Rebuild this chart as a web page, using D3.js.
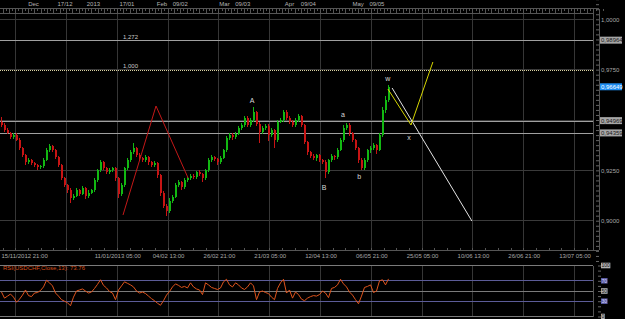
<!DOCTYPE html>
<html>
<head>
<meta charset="utf-8">
<title>USDCHF H4</title>
<script src="https://cdn.jsdelivr.net/npm/d3@7"></script>
<style>
  html, body { margin: 0; padding: 0; background: #000; overflow: hidden; }
  svg { display: block; font-family: 'Liberation Sans', Arial, sans-serif; }
</style>
</head>
<body>
<div id="chart"></div>
<script>
// price bars (USDCHF)
var firstOpen = 0.9490;
var closes = [
  0.9475, 0.9450, 0.9435, 0.9415, 0.9425, 0.9400, 0.9360, 0.9325, 0.9290, 0.9300,
  0.9285, 0.9275, 0.9265, 0.9270, 0.9300, 0.9350, 0.9370, 0.9350, 0.9315, 0.9275,
  0.9210, 0.9175, 0.9150, 0.9115, 0.9125, 0.9150, 0.9135, 0.9160, 0.9125, 0.9140,
  0.9150, 0.9200, 0.9250, 0.9290, 0.9260, 0.9240, 0.9250, 0.9260, 0.9210, 0.9135,
  0.9175, 0.9260, 0.9300, 0.9340, 0.9360, 0.9325, 0.9310, 0.9300, 0.9315, 0.9290,
  0.9275, 0.9285, 0.9225, 0.9140, 0.9075, 0.9050, 0.9100, 0.9120, 0.9175, 0.9190,
  0.9165, 0.9200, 0.9210, 0.9220, 0.9215, 0.9240, 0.9230, 0.9210, 0.9250, 0.9300,
  0.9315, 0.9305, 0.9290, 0.9310, 0.9350, 0.9410, 0.9425, 0.9415, 0.9430, 0.9460,
  0.9475, 0.9510, 0.9475, 0.9500, 0.9540, 0.9480, 0.9440, 0.9460, 0.9470, 0.9425,
  0.9450, 0.9400, 0.9490, 0.9500, 0.9540, 0.9510, 0.9490, 0.9475, 0.9500, 0.9520,
  0.9475, 0.9390, 0.9340, 0.9320, 0.9310, 0.9325, 0.9300, 0.9290, 0.9240, 0.9300,
  0.9320, 0.9315, 0.9350, 0.9400, 0.9460, 0.9475, 0.9435, 0.9400, 0.9360, 0.9300,
  0.9260, 0.9300, 0.9350, 0.9360, 0.9375, 0.9350, 0.9425, 0.9550, 0.9600, 0.96649
];
// wick lengths above / below the body, in pips
var wickUp = [
  25, 8, 10, 6, 12, 8, 10, 6, 8, 10,
  6, 8, 5, 8, 10, 12, 10, 8, 6, 8,
  5, 8, 6, 10, 8, 12, 6, 10, 8, 12,
  8, 10, 8, 10, 6, 8, 10, 6, 8, 5,
  10, 8, 10, 12, 25, 8, 10, 8, 12, 6,
  8, 10, 6, 5, 8, 10, 12, 8, 10, 12,
  6, 10, 8, 12, 10, 8, 10, 6, 8, 10,
  12, 6, 8, 10, 8, 12, 10, 8, 10, 12,
  8, 12, 10, 8, 25, 6, 10, 12, 8, 10,
  12, 6, 10, 8, 12, 10, 8, 10, 12, 10,
  6, 5, 8, 6, 10, 8, 6, 8, 10, 8,
  12, 8, 10, 12, 15, 10, 8, 6, 8, 5,
  10, 12, 8, 10, 12, 8, 10, 15, 20, 10
];
var wickDn = [
  10, 8, 6, 10, 8, 6, 10, 8, 12, 6,
  10, 8, 12, 6, 8, 6, 10, 8, 10, 6,
  8, 10, 12, 25, 10, 8, 12, 6, 15, 10,
  8, 6, 8, 6, 10, 8, 6, 10, 12, 20,
  10, 8, 6, 8, 10, 8, 12, 8, 10, 12,
  8, 10, 12, 15, 12, 25, 10, 12, 8, 10,
  12, 8, 10, 6, 10, 8, 10, 20, 8, 6,
  8, 10, 12, 8, 6, 8, 10, 12, 8, 6,
  10, 8, 12, 10, 8, 10, 55, 10, 8, 30,
  10, 40, 8, 6, 10, 8, 12, 10, 8, 10,
  12, 10, 12, 8, 10, 12, 8, 10, 30, 8,
  10, 12, 8, 6, 8, 10, 12, 10, 8, 12,
  10, 8, 10, 12, 8, 20, 6, 8, 15, 12
];
var rsiValues = [
  48, 36, 40, 44, 38, 28, 34, 42, 52, 41,
  39, 46, 47, 51, 58, 71, 66, 60, 46, 40,
  33, 30, 27, 21, 38, 50, 52, 54, 50, 46,
  48, 55, 63, 72, 61, 56, 49, 46, 33, 52,
  60, 68, 65, 62, 58, 50, 46, 48, 45, 40,
  35, 31, 26, 22, 31, 42, 49, 58, 64, 61,
  57, 59, 56, 66, 58, 54, 52, 43, 66, 62,
  57, 55, 53, 56, 68, 73, 62, 58, 66, 62,
  56, 53, 58, 66, 60, 33, 48, 50, 47, 45,
  38, 33, 55, 66, 73, 46, 52, 36, 48, 43,
  34, 31, 36, 39, 41, 40, 43, 50, 46, 37,
  55, 57, 62, 73, 64, 58, 48, 42, 33, 25,
  40, 57, 59, 62, 47, 50, 70, 72, 62, 73.76
];
var rsiTitle = 'RSI(USDCHF,Close,13): 73.76';
var rsiLevels = [100, 70, 50, 30, 0];

// time scale: bottom labels sit on the grid slots, top labels between them
var bottomLabels = ['15/11/2012 21:00', '', '11/01/2013 05:00', '04/02 13:00', '26/02 21:00',
  '21/03 05:00', '12/04 13:00', '06/05 21:00', '25/05 05:00', '10/06 13:00', '26/06 21:00', '13/07 05:00'];
var topLabels = ['Dec', '17/12', '2013', '17/01', 'Feb', '09/02', 'Mar', '09/03', 'Apr', '09/04', 'May', '09/05'];
var topSlots = [0.34, 0.96, 1.52, 2.18, 2.87, 3.23, 4.10, 4.46, 5.38, 5.75, 6.73, 7.10];

var priceGrid = [1.0, 0.975, 0.95, 0.925, 0.9];
var priceLabels = [1.0, 0.975, 0.925, 0.9];
var levelLines = [0.98964, 0.94969, 0.94359];
var fibLevels = [0.98964, 0.975];
var fibLabels = ['1,272', '1,000'];
var lastPrice = 0.96649;

// drawn wave lines: [bar index, price]
var redWave = [[40.5, 0.90283], [51.5, 0.95695], [62.2, 0.9212]];
var yellowWave = [[128.8, 0.96539], [136.5, 0.94752], [143.8, 0.9788]];
var whiteWave = [[130.2, 0.96589], [156.8, 0.89985]];
var waveLabels = ['A', 'B', 'a', 'b', 'w', 'x'];
var waveAt = [[83.5, 0.9599], [107.5, 0.9167], [113.8, 0.9525], [119.2, 0.9217], [128.8, 0.9704], [135.8, 0.9411]];

window.addEventListener('DOMContentLoaded', function() {

  var w = 625, h = 319;
  var plotRight = 593, axisX = 599;
  var mainTop = 13, mainBottom = 250;
  var rsiTop = 265.5, rsiBottom = 316.5;

  var xBar = d3.scaleLinear().domain([0, closes.length - 1]).range([1.5, 388.5]);
  var xSlot = d3.scaleLinear().domain([0, 11]).range([15.7, 574.5]);
  var yPrice = d3.scaleLinear().domain([0.9, 1.0]).range([220.7, 19.3]);
  var yRsi = d3.scaleLinear().domain([0, 100]).range([rsiBottom, rsiTop]);

  var locale = d3.formatLocale({decimal: ',', thousands: '.', grouping: [3], currency: ['', '']});
  var f4 = locale.format('.4f');
  var f5 = locale.format('.5f');

  var svg = d3.select('#chart')
              .append('svg')
              .attr('width', w)
              .attr('height', h);

  svg.append('rect').attr('width', w).attr('height', h).attr('fill', '#000');

  svg.append('defs').append('clipPath').attr('id', 'clip-main')
     .append('rect')
     .attr('x', 0).attr('y', mainTop)
     .attr('width', plotRight).attr('height', mainBottom - mainTop);

  // grid
  var grid = svg.append('g').attr('shape-rendering', 'crispEdges');
  grid.selectAll('line.vmain')
      .data(d3.range(12))
      .enter().append('line')
      .attr('class', 'vmain')
      .attr('x1', d => xSlot(d)).attr('x2', d => xSlot(d))
      .attr('y1', 8).attr('y2', mainBottom)
      .attr('stroke', '#363636');
  grid.selectAll('line.vrsi')
      .data(d3.range(12))
      .enter().append('line')
      .attr('class', 'vrsi')
      .attr('x1', d => xSlot(d)).attr('x2', d => xSlot(d))
      .attr('y1', rsiTop).attr('y2', rsiBottom)
      .attr('stroke', '#363636');
  grid.selectAll('line.hmain')
      .data(priceGrid)
      .enter().append('line')
      .attr('class', 'hmain')
      .attr('x1', 0).attr('x2', plotRight)
      .attr('y1', d => yPrice(d)).attr('y2', d => yPrice(d))
      .attr('stroke', '#3a3a3a');

  // frame + ruler
  var frame = svg.append('g').attr('shape-rendering', 'crispEdges').attr('stroke', '#555');
  frame.append('line').attr('x1', 0).attr('x2', axisX).attr('y1', 8.5).attr('y2', 8.5);
  frame.append('line').attr('x1', 0).attr('x2', plotRight).attr('y1', mainTop).attr('y2', mainTop);
  frame.append('line').attr('x1', 0).attr('x2', axisX).attr('y1', mainBottom).attr('y2', mainBottom);
  frame.append('line').attr('x1', plotRight).attr('x2', plotRight).attr('y1', mainTop).attr('y2', mainBottom);
  frame.append('line').attr('x1', axisX).attr('x2', axisX).attr('y1', 8.5).attr('y2', mainBottom);
  frame.append('line').attr('x1', plotRight).attr('x2', plotRight).attr('y1', rsiTop).attr('y2', rsiBottom);

  var rulerTicks = d3.range(-4, 186).map(k => k / 16);
  frame.selectAll('line.rtick')
       .data(rulerTicks)
       .enter().append('line')
       .attr('class', 'rtick')
       .attr('x1', d => xSlot(d)).attr('x2', d => xSlot(d))
       .attr('y1', 8.5).attr('y2', (d, i) => i % 2 ? 10.5 : 12.5);
  frame.selectAll('line.btick')
       .data(d3.range(-1, 47).map(k => k / 4))
       .enter().append('line')
       .attr('class', 'btick')
       .attr('x1', d => xSlot(d)).attr('x2', d => xSlot(d))
       .attr('y1', mainBottom - 2).attr('y2', mainBottom);

  // price axis minor ticks
  svg.append('g')
     .attr('transform', `translate(${axisX},0)`)
     .call(d3.axisLeft(yPrice).tickValues(d3.range(-8, 45).map(k => 0.9 + k * 0.0025)).tickSize(3).tickFormat(''))
     .call(g => g.select('.domain').remove())
     .selectAll('line').attr('stroke', '#666');

  var main = svg.append('g').attr('clip-path', 'url(#clip-main)');

  // horizontal levels
  main.selectAll('line.level')
      .data(levelLines)
      .enter().append('line')
      .attr('class', 'level')
      .attr('x1', 0).attr('x2', plotRight)
      .attr('y1', d => Math.round(yPrice(d)) + 0.5).attr('y2', d => Math.round(yPrice(d)) + 0.5)
      .attr('stroke', '#a0a0a0');
  main.append('line')
      .attr('x1', 0).attr('x2', plotRight)
      .attr('y1', Math.round(yPrice(fibLevels[1])) + 0.5).attr('y2', Math.round(yPrice(fibLevels[1])) + 0.5)
      .attr('stroke', '#d8d0a0')
      .attr('stroke-dasharray', '1,1');
  main.selectAll('text.fib')
      .data(fibLevels)
      .enter().append('text')
      .attr('class', 'fib')
      .attr('x', xBar(redWave[0][0]))
      .attr('y', d => yPrice(d) - 1.5)
      .attr('font-size', 6)
      .attr('fill', '#c8c8c8')
      .text((d, i) => fibLabels[i]);

  // candles
  var bars = closes.map(function(c, i) {
    var o = i === 0 ? firstOpen : closes[i - 1];
    return {
      i: i, o: o, c: c,
      h: Math.max(o, c) + wickUp[i] / 10000,
      l: Math.min(o, c) - wickDn[i] / 10000
    };
  });
  var candle = main.append('g').attr('shape-rendering', 'crispEdges')
                   .selectAll('g')
                   .data(bars)
                   .enter().append('g')
                   .attr('stroke', d => d.c >= d.o ? '#12b812' : '#c81414')
                   .attr('fill', d => d.c >= d.o ? '#12b812' : '#c81414');
  candle.append('line')
        .attr('x1', d => xBar(d.i)).attr('x2', d => xBar(d.i))
        .attr('y1', d => yPrice(d.h)).attr('y2', d => yPrice(d.l));
  candle.append('rect')
        .attr('stroke', 'none')
        .attr('x', d => xBar(d.i) - 0.5)
        .attr('width', 2)
        .attr('y', d => yPrice(Math.max(d.o, d.c)))
        .attr('height', d => Math.max(1, Math.abs(yPrice(d.o) - yPrice(d.c))));

  // wave drawings
  var waveLine = d3.line().x(d => xBar(d[0])).y(d => yPrice(d[1]));
  main.append('path').attr('d', waveLine(redWave)).attr('fill', 'none').attr('stroke', '#c41818');
  main.append('path').attr('d', waveLine(whiteWave)).attr('fill', 'none').attr('stroke', '#e6e6e6');
  main.append('path').attr('d', waveLine(yellowWave)).attr('fill', 'none').attr('stroke', '#d6d600');
  main.selectAll('text.wave')
      .data(waveLabels)
      .enter().append('text')
      .attr('class', 'wave')
      .attr('x', (d, i) => xBar(waveAt[i][0]))
      .attr('y', (d, i) => yPrice(waveAt[i][1]))
      .attr('dy', '0.35em')
      .attr('text-anchor', 'middle')
      .attr('font-size', 7)
      .attr('fill', '#d8d8d8')
      .text(d => d);

  // price labels
  var yAxis = svg.append('g')
     .attr('transform', `translate(${axisX},0)`)
     .call(d3.axisRight(yPrice).tickValues(priceLabels).tickFormat(f4).tickSize(0).tickPadding(2));
  yAxis.select('.domain').remove();
  yAxis.attr('font-size', 6).attr('font-family', null);
  yAxis.selectAll('text').attr('fill', '#a8a8a8');

  function priceBox(v, bg, fg) {
    var g = svg.append('g').attr('transform', `translate(600,${yPrice(v)})`);
    g.append('rect').attr('x', 0).attr('y', -3.5).attr('width', 22).attr('height', 7).attr('fill', bg);
    g.append('text').attr('x', 1).attr('dy', '0.34em').attr('font-size', 6).attr('fill', fg).text(f5(v));
  }
  levelLines.forEach(v => priceBox(v, '#a6a6a6', '#1a1a1a'));
  priceBox(lastPrice, '#1e8cf0', '#ffffff');

  // time labels
  var topAxis = svg.append('g')
     .attr('transform', 'translate(0,8)')
     .call(d3.axisTop(xSlot).tickValues(topSlots).tickFormat((d, i) => topLabels[i]).tickSize(0).tickPadding(2));
  topAxis.select('.domain').remove();
  topAxis.attr('font-size', 6).attr('font-family', null);
  topAxis.selectAll('text').attr('fill', '#b4b4b4');

  var bottomAxis = svg.append('g')
     .attr('transform', `translate(0,${mainBottom})`)
     .call(d3.axisBottom(xSlot).tickValues(d3.range(12)).tickFormat(i => bottomLabels[i]).tickSize(0).tickPadding(4));
  bottomAxis.select('.domain').remove();
  bottomAxis.attr('font-size', 6).attr('font-family', null);
  bottomAxis.selectAll('text').attr('fill', '#a8a8a8');
  bottomAxis.select('.tick text').attr('text-anchor', 'start').attr('x', 1 - xSlot(0));

  // RSI panel
  var rsi = svg.append('g');
  rsi.selectAll('line.rl')
     .data(rsiLevels)
     .enter().append('line')
     .attr('class', 'rl')
     .attr('shape-rendering', 'crispEdges')
     .attr('x1', 0).attr('x2', plotRight)
     .attr('y1', d => yRsi(d)).attr('y2', d => yRsi(d))
     .attr('stroke', d => (d === 70 || d === 30) ? '#5c5c98' : '#7a7a7a');

  svg.append('g')
     .attr('transform', 'translate(598,0)')
     .call(d3.axisRight(yRsi).tickValues(d3.range(0, 101, 10)).tickSize(3).tickFormat(''))
     .call(g => g.select('.domain').remove())
     .selectAll('line').attr('stroke', '#666');

  rsi.append('path')
     .datum(rsiValues)
     .attr('d', d3.line().x((d, i) => xBar(i)).y(d => yRsi(d)))
     .attr('fill', 'none')
     .attr('stroke', '#e0541c')
     .attr('stroke-width', 1);

  rsi.append('text')
     .attr('x', 3).attr('y', rsiTop + 4.8)
     .attr('font-size', 6)
     .attr('fill', '#d8501c')
     .text(rsiTitle);

  rsiLevels.forEach(function(v) {
    var blue = v === 70 || v === 30;
    var g = svg.append('g').attr('transform', `translate(601,${yRsi(v)})`);
    var r = g.append('rect').attr('y', -2.8).attr('height', 5.6).attr('fill', blue ? '#5a5aa0' : '#b0b0b0');
    var t = g.append('text').attr('x', 0.5).attr('dy', '0.34em').attr('font-size', 5)
             .attr('fill', blue ? '#d8d8ff' : '#111').text(v);
    r.attr('width', t.node().getComputedTextLength() + 1);
  });

});
</script>
</body>
</html>
